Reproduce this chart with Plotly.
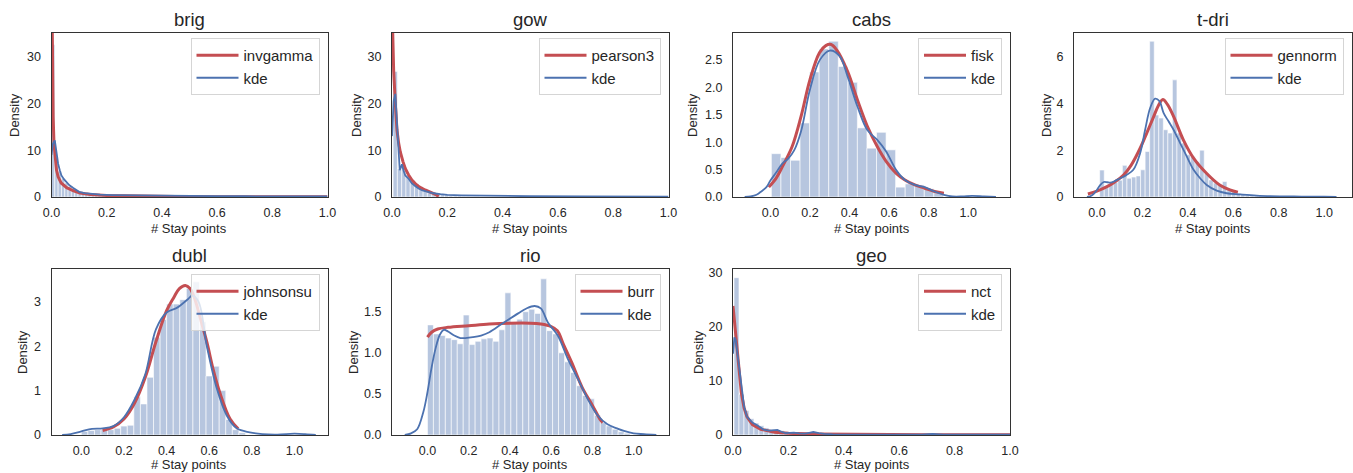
import numpy as np
import plotly.graph_objects as go

W, H = 1353, 473

# ---------------- data ----------------
titles = ["brig", "gow", "cabs", "t-dri", "dubl", "rio", "geo"]
fit_names = ["invgamma", "pearson3", "fisk", "gennorm", "johnsonsu", "burr", "nct"]

# histogram bins (start, width) and heights
brig_bin = (0.0, 0.012)
brig_hist = [32.5, 8.5, 5.5, 4.0, 3.0, 2.2, 1.7, 1.35, 1.05, 0.85, 0.7, 0.58, 0.48, 0.4,
             0.34, 0.29, 0.25, 0.22, 0.19, 0.17, 0.15, 0.13, 0.12, 0.11, 0.1]
gow_bin = (0.004, 0.0155)
gow_hist = [26.8, 6.0, 6.5, 4.5, 3.6, 2.8, 2.2, 1.7, 1.3, 1.0, 0.8, 0.6, 0.45, 0.35,
            0.28, 0.22, 0.18, 0.15, 0.12, 0.1]
cabs_bin = (0.005, 0.0483)
cabs_hist = [0.79, 0.72, 0.67, 1.35, 2.28, 2.70, 2.84, 2.38, 2.09, 1.26, 0.89, 1.18,
             0.86, 0.18, 0.24, 0.22, 0.15, 0.08]
tdri_bin = (0.012, 0.02)
tdri_hist = [1.15, 0.45, 0.55, 0.62, 0.72, 1.35, 0.8, 0.85, 0.9, 1.16, 1.94, 6.65, 3.5,
             3.37, 2.87, 2.73, 5.0, 2.73, 2.3, 1.8, 1.73, 1.5, 2.0, 1.0, 0.73, 0.6, 0.5,
             0.66, 0.33, 0.23, 0.16, 0.11, 0.08, 0.06, 0.05, 0.04, 0.03, 0.03, 0.02,
             0.02, 0.02, 0.015, 0.015, 0.01, 0.01, 0.01, 0.01, 0.01, 0.01]
dubl_bin = (0.0, 0.0308)
dubl_hist = [0.08, 0.1, 0.12, 0.12, 0.12, 0.15, 0.2, 0.22, 0.86, 0.7, 1.3, 2.2, 2.6,
             2.95, 2.95, 3.05, 3.3, 3.45, 2.55, 1.33, 1.55, 1.0, 0.35, 0.12, 0.05]
rio_bin = (0.0, 0.0289)
rio_hist = [1.34, 1.23, 1.21, 1.18, 1.16, 1.11, 1.46, 1.10, 1.14, 1.17, 1.18, 1.14,
            1.28, 1.73, 1.37, 1.41, 1.50, 1.53, 1.48, 1.90, 1.27, 1.23, 1.00, 0.89,
            0.76, 0.60, 0.48, 0.44, 0.24, 0.15, 0.11, 0.07, 0.04, 0.02]
geo_bin = (0.0036, 0.018)
geo_hist = [29.0, 7.5, 4.5, 3.0, 2.2, 1.7, 1.3, 1.0, 0.8, 0.8, 0.6, 0.45, 0.35, 0.35,
            0.3, 0.4, 0.3, 0.2, 0.15, 0.12, 0.1, 0.08]

# kde curves
brig_kde_x = [0.0, 0.005, 0.012, 0.018, 0.024, 0.03, 0.036, 0.045, 0.055, 0.065, 0.079,
              0.09, 0.1, 0.12, 0.14, 0.176, 0.22, 0.3, 0.4, 0.5, 0.6, 0.7, 0.8, 0.9, 1.0]
brig_kde_y = [9.0, 11.3, 12.1, 9.5, 7.1, 5.7, 4.6, 3.8, 3.2, 2.5, 1.9, 1.45, 1.1, 0.85,
              0.7, 0.5, 0.42, 0.35, 0.27, 0.22, 0.18, 0.16, 0.14, 0.12, 0.11]
gow_kde_x = [0.0, 0.003, 0.006, 0.012, 0.018, 0.023, 0.028, 0.032, 0.036, 0.042, 0.048,
             0.06, 0.072, 0.085, 0.096, 0.11, 0.127, 0.15, 0.175, 0.2, 0.25, 0.3, 0.4,
             0.5, 0.7, 1.0]
gow_kde_y = [13.0, 17.0, 20.5, 22.0, 15.0, 8.5, 5.7, 6.3, 7.0, 5.6, 4.6, 3.9, 2.9, 2.3,
             1.8, 1.4, 1.1, 0.8, 0.6, 0.45, 0.35, 0.3, 0.22, 0.17, 0.12, 0.09]
cabs_kde_x = [-0.13, -0.1, -0.07, -0.05, -0.02, 0.0, 0.03, 0.06, 0.09, 0.12, 0.155,
              0.2, 0.25, 0.3, 0.35, 0.39, 0.44, 0.49, 0.54, 0.585, 0.636, 0.68, 0.73,
              0.78, 0.83, 0.877, 0.92, 0.97, 1.02, 1.08, 1.14]
cabs_kde_y = [0.0, 0.01, 0.04, 0.09, 0.18, 0.3, 0.45, 0.61, 0.7, 0.85, 1.2, 1.96, 2.5,
              2.67, 2.57, 2.2, 1.65, 1.22, 1.04, 0.83, 0.49, 0.31, 0.22, 0.18, 0.1,
              0.04, 0.01, 0.01, 0.02, 0.01, 0.0]
tdri_kde_x = [-0.044, -0.03, -0.015, 0.0, 0.015, 0.03, 0.045, 0.058, 0.075, 0.088,
              0.11, 0.13, 0.16, 0.19, 0.212, 0.234, 0.256, 0.275, 0.293, 0.315, 0.337,
              0.366, 0.395, 0.425, 0.454, 0.483, 0.527, 0.571, 0.63, 0.703, 0.805,
              0.9, 1.0, 1.054]
tdri_kde_y = [0.0, 0.03, 0.12, 0.3, 0.52, 0.64, 0.63, 0.61, 0.66, 0.73, 0.83, 0.94,
              1.16, 1.87, 2.87, 3.8, 4.2, 4.09, 3.59, 3.23, 2.87, 2.3, 1.73, 1.16, 0.8,
              0.51, 0.27, 0.16, 0.11, 0.06, 0.03, 0.02, 0.01, 0.0]
dubl_kde_x = [-0.09, -0.05, 0.0, 0.05, 0.1, 0.15, 0.2, 0.25, 0.3, 0.35, 0.4, 0.45, 0.5,
              0.52, 0.55, 0.589, 0.636, 0.682, 0.729, 0.79, 0.85, 0.92, 1.0, 1.05, 1.1]
dubl_kde_y = [0.0, 0.02, 0.08, 0.14, 0.15, 0.2, 0.4, 0.8, 1.37, 2.38, 2.76, 2.87, 3.06,
              3.14, 3.0, 2.0, 1.04, 0.44, 0.15, 0.06, 0.02, 0.01, 0.03, 0.02, 0.0]
rio_kde_x = [-0.11, -0.08, -0.05, -0.02, 0.0, 0.02, 0.04, 0.06, 0.079, 0.1, 0.13, 0.16,
             0.183, 0.22, 0.26, 0.3, 0.36, 0.44, 0.48, 0.52, 0.55, 0.584, 0.632, 0.68,
             0.73, 0.777, 0.825, 0.873, 0.92, 0.953, 1.0, 1.05, 1.11]
rio_kde_y = [0.0, 0.02, 0.07, 0.28, 0.52, 0.82, 1.06, 1.22, 1.28, 1.26, 1.21, 1.18,
             1.18, 1.19, 1.21, 1.25, 1.35, 1.48, 1.54, 1.57, 1.54, 1.37, 1.21, 0.93,
             0.68, 0.44, 0.24, 0.13, 0.08, 0.05, 0.02, 0.01, 0.0]
geo_kde_x = [0.0, 0.005, 0.01, 0.02, 0.03, 0.04, 0.05, 0.07, 0.09, 0.11, 0.13, 0.145,
             0.16, 0.175, 0.19, 0.205, 0.22, 0.24, 0.26, 0.275, 0.29, 0.31, 0.33, 0.36,
             0.4, 0.5, 0.6, 0.68, 0.72, 0.76, 0.85, 1.0]
geo_kde_y = [15.0, 18.0, 17.5, 13.4, 9.0, 5.3, 3.4, 2.3, 1.7, 1.0, 0.8, 0.85, 0.95,
             0.6, 0.35, 0.4, 0.45, 0.3, 0.25, 0.4, 0.55, 0.35, 0.2, 0.12, 0.1, 0.08,
             0.07, 0.08, 0.2, 0.08, 0.05, 0.05]

# fitted distribution curves
brig_fit_x = [0.0012, 0.0025, 0.004, 0.006, 0.009, 0.013, 0.018, 0.024, 0.035, 0.055,
              0.08, 0.103, 0.14, 0.2, 0.3, 0.45, 0.6, 0.8, 1.0]
brig_fit_y = [45, 36, 26, 17, 11.5, 8.0, 5.8, 4.3, 3.0, 2.0, 1.3, 0.86, 0.55, 0.32,
              0.18, 0.1, 0.07, 0.05, 0.04]
gow_fit_x = [0.0005, 0.0025, 0.006, 0.012, 0.018, 0.024, 0.03, 0.04, 0.048, 0.06, 0.072,
             0.085, 0.1, 0.12, 0.139, 0.155, 0.169]
gow_fit_y = [40, 35, 27, 20, 14.3, 11.5, 9.6, 7.5, 6.1, 4.7, 3.6, 2.8, 2.1, 1.5, 1.07,
             0.6, 0.15]
cabs_fit_x = [-0.008, 0.03, 0.06, 0.11, 0.155, 0.2, 0.248, 0.28, 0.307, 0.335, 0.39,
              0.44, 0.49, 0.54, 0.585, 0.636, 0.68, 0.73, 0.78, 0.83, 0.877]
cabs_fit_y = [0.18, 0.35, 0.55, 0.92, 1.47, 2.14, 2.63, 2.76, 2.78, 2.68, 2.29, 1.77,
              1.29, 0.92, 0.65, 0.43, 0.31, 0.22, 0.16, 0.1, 0.07]
tdri_fit_x = [-0.04, 0.0, 0.044, 0.08, 0.117, 0.15, 0.19, 0.22, 0.25, 0.27, 0.29, 0.31,
              0.337, 0.38, 0.425, 0.483, 0.54, 0.585, 0.62]
tdri_fit_y = [0.13, 0.25, 0.44, 0.65, 0.94, 1.35, 2.08, 2.75, 3.44, 3.9, 4.16, 3.95,
              3.44, 2.44, 1.66, 1.0, 0.51, 0.3, 0.2]
dubl_fit_x = [0.1, 0.15, 0.2, 0.25, 0.3, 0.35, 0.4, 0.434, 0.46, 0.488, 0.51, 0.53,
              0.56, 0.589, 0.62, 0.65, 0.698, 0.736]
dubl_fit_y = [0.1, 0.18, 0.36, 0.72, 1.3, 2.1, 2.8, 3.1, 3.3, 3.37, 3.3, 3.1, 2.6, 2.09,
              1.45, 0.95, 0.36, 0.14]
rio_fit_x = [0.0, 0.02, 0.05, 0.1, 0.2, 0.3, 0.4, 0.5, 0.55, 0.6, 0.63, 0.66, 0.7, 0.75,
             0.8, 0.84, 0.85]
rio_fit_y = [1.19, 1.25, 1.29, 1.31, 1.33, 1.35, 1.36, 1.36, 1.35, 1.32, 1.27, 1.1,
             0.88, 0.58, 0.36, 0.18, 0.15]
geo_fit_x = [0.0, 0.01, 0.02, 0.03, 0.04, 0.05, 0.07, 0.1, 0.15, 0.2, 0.3, 0.5, 0.7, 1.0]
geo_fit_y = [23.8, 18.4, 12.1, 7.8, 5.0, 3.4, 1.9, 1.05, 0.5, 0.3, 0.17, 0.09, 0.06, 0.05]

# axis ranges and ticks
x_ranges = [[0, 1.0], [0, 1.0], [-0.189, 1.211], [-0.101, 1.12],
            [-0.14, 1.155], [-0.172, 1.169], [0, 1.0]]
y_ranges = [[0, 35], [0, 35], [0, 2.99], [0, 7.0], [0, 3.74], [0, 2.02], [0, 30.6]]
x_ticks = [0.0, 0.2, 0.4, 0.6, 0.8, 1.0]
y_ticks = [[0, 10, 20, 30], [0, 10, 20, 30], [0.0, 0.5, 1.0, 1.5, 2.0, 2.5],
           [0, 2, 4, 6], [0, 1, 2, 3], [0.0, 0.5, 1.0, 1.5], [0, 10, 20, 30]]
y_fmt = ["d", "d", ".1f", "d", "d", ".1f", "d"]

bins = [brig_bin, gow_bin, cabs_bin, tdri_bin, dubl_bin, rio_bin, geo_bin]
hists = [brig_hist, gow_hist, cabs_hist, tdri_hist, dubl_hist, rio_hist, geo_hist]
kdes = [(brig_kde_x, brig_kde_y), (gow_kde_x, gow_kde_y), (cabs_kde_x, cabs_kde_y),
        (tdri_kde_x, tdri_kde_y), (dubl_kde_x, dubl_kde_y), (rio_kde_x, rio_kde_y),
        (geo_kde_x, geo_kde_y)]
fits = [(brig_fit_x, brig_fit_y), (gow_fit_x, gow_fit_y), (cabs_fit_x, cabs_fit_y),
        (tdri_fit_x, tdri_fit_y), (dubl_fit_x, dubl_fit_y), (rio_fit_x, rio_fit_y),
        (geo_fit_x, geo_fit_y)]
smooth = [False, False, True, True, True, True, False]

# ---------------- layout geometry (pixels) ----------------
cols = [(51.5, 327.5), (392, 668.5), (733, 1010), (1074, 1351.5)]
rows = [(33, 197), (269, 435)]
pos = [(0, 0), (0, 1), (0, 2), (0, 3), (1, 0), (1, 1), (1, 2)]
density_x = [15, 357, 693, 1047, 22, 353, 698]
xlabel_y = [228, 464]

FONT = "Liberation Sans, Arial, sans-serif"
TXT = "#262626"
HIST_C = "#b7c6df"
KDE_C = "#4c72b0"
FIT_C = "#c44e52"

fig = go.Figure()
layout = dict(width=W, height=H, margin=dict(l=0, r=0, t=0, b=0, autoexpand=False),
              paper_bgcolor="white", plot_bgcolor="white",
              font=dict(family=FONT, color=TXT), barmode="overlay")
annotations = []

for i in range(7):
    r, c = pos[i]
    x0, x1 = cols[c]
    y0, y1 = rows[r]
    n = "" if i == 0 else str(i + 1)
    xa, ya = "x" + n, "y" + n
    leg = "legend" + n

    start, w = bins[i]
    h = np.array(hists[i])
    centers = start + w * (np.arange(len(h)) + 0.5)
    fig.add_trace(go.Bar(x=centers, y=h, width=w, marker=dict(color=HIST_C,
                         line=dict(color="white", width=0.6)),
                         xaxis=xa, yaxis=ya, showlegend=False, hoverinfo="skip"))
    shape = "spline" if smooth[i] else "linear"
    fx, fy = fits[i]
    fig.add_trace(go.Scatter(x=fx, y=fy, mode="lines", name=fit_names[i],
                             line=dict(color=FIT_C, width=3, shape=shape),
                             xaxis=xa, yaxis=ya, legend=leg))
    kx, ky = kdes[i]
    fig.add_trace(go.Scatter(x=kx, y=ky, mode="lines", name="kde",
                             line=dict(color=KDE_C, width=1.8, shape=shape),
                             xaxis=xa, yaxis=ya, legend=leg))

    axis_common = dict(showgrid=False, zeroline=False, showline=True, mirror=True,
                       linecolor="#333333", linewidth=1.25, ticks="outside",
                       tickcolor="rgba(0,0,0,0)", automargin=False,
                       tickfont=dict(family=FONT, size=12.5, color=TXT))
    layout["xaxis" + n] = dict(axis_common, domain=[x0 / W, x1 / W], range=x_ranges[i],
                               anchor=ya, tickvals=x_ticks, tickformat=".1f", ticklen=4)
    layout["yaxis" + n] = dict(axis_common, domain=[1 - y1 / H, 1 - y0 / H],
                               range=y_ranges[i], anchor=xa, tickvals=y_ticks[i],
                               tickformat=y_fmt[i], ticklen=7)
    layout[leg] = dict(x=(x1 - 8) / W, y=1 - (y0 + 5) / H, xanchor="right",
                       yanchor="top", bgcolor="rgba(255,255,255,0.8)",
                       bordercolor="#d5d5d5", borderwidth=1, itemwidth=42,
                       font=dict(family=FONT, size=15, color=TXT))

    cx = (x0 + x1) / 2
    annotations.append(dict(text=titles[i], x=cx / W, y=1 - (y0 - 1) / H,
                            xref="paper", yref="paper", xanchor="center",
                            yanchor="bottom", showarrow=False,
                            font=dict(family=FONT, size=18.5, color=TXT)))
    annotations.append(dict(text="# Stay points", x=cx / W, y=1 - xlabel_y[r] / H,
                            xref="paper", yref="paper", xanchor="center",
                            yanchor="middle", showarrow=False,
                            font=dict(family=FONT, size=13, color=TXT)))
    annotations.append(dict(text="Density", x=density_x[i] / W,
                            y=1 - ((y0 + y1) / 2) / H, xref="paper", yref="paper",
                            xanchor="center", yanchor="middle", textangle=-90,
                            showarrow=False,
                            font=dict(family=FONT, size=13, color=TXT)))

layout["annotations"] = annotations
fig.update_layout(**layout)
fig.write_html("out.html", config={"displayModeBar": False},
               post_script="document.body.style.margin='0px';"
                           "document.body.style.overflow='hidden';")
